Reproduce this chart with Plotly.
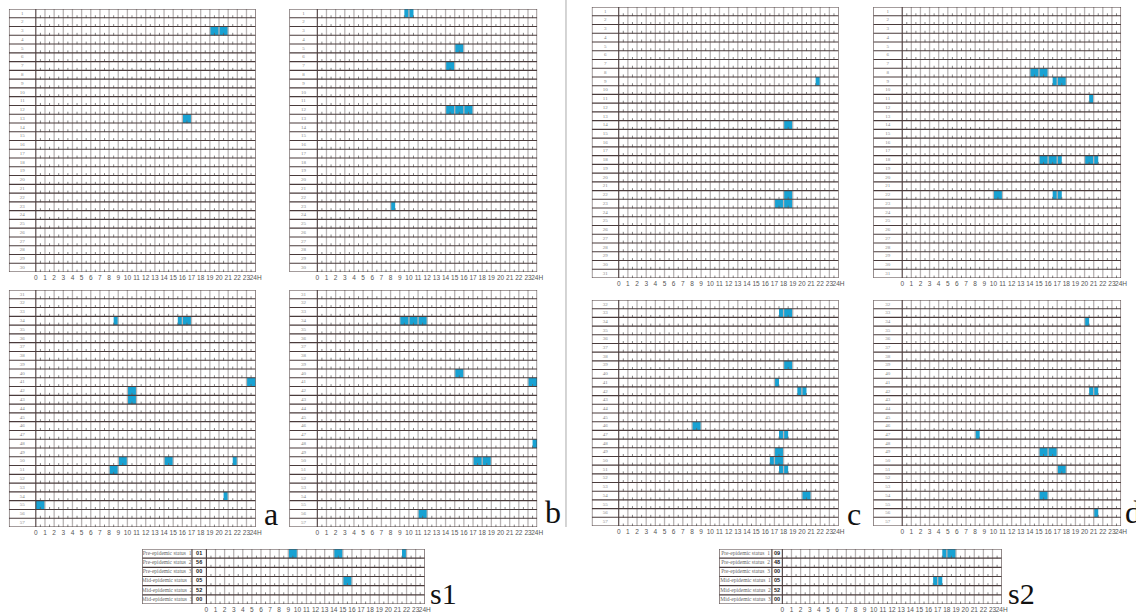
import plotly.graph_objects as go

W, H = 1136, 613

HOURS = list(range(25))
HOUR_LABELS = [str(h) for h in range(24)] + ["24H"]

# Occupied time slots per subject: (subject row, start hour, end hour)
PANEL_A = [(3, 19, 21), (13, 16, 17), (34, 8.5, 9), (34, 15.5, 17), (41, 23, 24),
           (42, 10, 11), (43, 10, 11), (50, 9, 10), (50, 14, 15), (50, 21.5, 22),
           (51, 8, 9), (54, 20.5, 21), (55, 0, 1)]
PANEL_B = [(1, 9.5, 10.5), (5, 15, 16), (7, 14, 15), (12, 14, 17), (23, 8, 8.5),
           (34, 9, 12), (40, 15, 16), (41, 23, 24), (48, 23.5, 24), (50, 17, 19),
           (56, 11, 12)]
PANEL_C = [(9, 21.5, 22), (14, 18, 19), (22, 18, 19), (23, 17, 19), (33, 17.5, 19),
           (39, 18, 19), (41, 17, 17.5), (42, 19.5, 20.5), (46, 8, 9), (47, 17.5, 18.5),
           (49, 17, 18), (50, 16.5, 18), (51, 17.5, 18.5), (54, 20, 21)]
PANEL_D = [(8, 14, 16), (9, 16.5, 18), (11, 20.5, 21), (18, 15, 17.5), (18, 20, 21.5),
           (22, 10, 11), (22, 16.5, 17.5), (34, 20, 20.5), (42, 20.5, 21.5), (47, 8, 8.5),
           (49, 15, 17), (51, 17, 18), (54, 15, 16), (56, 21, 21.5)]

STATUS_LABELS = ["Pre-epidemic status  1", "Pre-epidemic status  2", "Pre-epidemic status  3",
                 "Mid-epidemic status  1", "Mid-epidemic status  2", "Mid-epidemic status  3"]
S1_OV = ["01", "56", "00", "05", "52", "00"]
S2_OV = ["09", "48", "00", "05", "52", "00"]
S1_BLOCKS = [(1, 9, 10), (1, 14, 15), (1, 21.5, 22), (4, 15, 16)]
S2_BLOCKS = [(1, 17.5, 19), (4, 16.5, 17.5)]

BLUE = "#18a2d3"
DARK = "#4a3b3b"
GRAY = "#b8b4b4"
TICK_FONT = dict(family="Liberation Sans", size=6.5, color="#555")
ROW_FONT = dict(family="Liberation Serif", size=5, color="#888")

fig = go.Figure()
axes = {}


def add_panel(n, box, grid_x0, rows, labels, blocks, ov_x0=None, ov_vals=None,
              label_font=ROW_FONT):
    x0, x1, y0, y1 = box
    cw = (x1 - grid_x0) / 24.0
    lw = (grid_x0 - x0) / cw
    xa, ya = ("x", "y") if n == 1 else (f"x{n}", f"y{n}")
    top, bot = rows[0] - 0.5, rows[-1] + 0.5
    common = dict(xaxis=xa, yaxis=ya, hoverinfo="skip", showlegend=False)

    sel = [b for b in blocks if rows[0] <= b[0] <= rows[-1]]
    if sel:
        fig.add_trace(go.Bar(orientation="h", y=[b[0] for b in sel],
                             x=[b[2] - b[1] for b in sel], base=[b[1] for b in sel],
                             width=1.0, marker=dict(color=BLUE, line=dict(width=0)),
                             **common))

    # hour lines
    vx, vy = [], []
    for h in HOURS[1:-1]:
        vx += [h, h, None]
        vy += [top, bot, None]
    fig.add_trace(go.Scatter(x=vx, y=vy, mode="lines",
                             line=dict(color=GRAY, width=1.3), **common))

    # half-hour tick marks along each row
    tx, ty = [], []
    for r in rows:
        for h in HOURS[:-1]:
            tx.append(h + 0.5)
            ty.append(r + 0.38)
    fig.add_trace(go.Scatter(x=tx, y=ty, mode="markers",
                             marker=dict(symbol="line-ns", size=2,
                                         line=dict(color="#666", width=0.8)),
                             **common))

    # row lines, frame and column separators
    dx, dy = [], []
    for k in range(len(rows) + 1):
        yb = top + k
        dx += [-lw, 24, None]
        dy += [yb, yb, None]
    seps = [-lw, 0, 24]
    ovw = 0
    if ov_x0 is not None:
        ovw = (grid_x0 - ov_x0) / cw
        seps.append(-ovw)
    for s in seps:
        dx += [s, s, None]
        dy += [top, bot, None]
    fig.add_trace(go.Scatter(x=dx, y=dy, mode="lines",
                             line=dict(color=DARK, width=1.1), **common))

    # row labels
    lab_center = -(lw + ovw) / 2.0
    fig.add_trace(go.Scatter(x=[lab_center] * len(rows), y=rows, mode="text",
                             text=labels, textfont=label_font, **common))
    if ov_vals is not None:
        fig.add_trace(go.Scatter(x=[-ovw / 2.0] * len(rows), y=rows, mode="text",
                                 text=[f"<b>{v}</b>" for v in ov_vals],
                                 textfont=dict(family="Liberation Sans", size=5.5,
                                               color="#222"), **common))
        fig.add_trace(go.Scatter(x=[-ovw / 2.0], y=[top - 0.75], mode="text",
                                 text=["<b>OV</b>"], cliponaxis=False,
                                 textfont=dict(family="Liberation Sans", size=5.5,
                                               color="#222"), **common))

    key = "" if n == 1 else str(n)
    axes[f"xaxis{key}"] = dict(domain=[x0 / W, x1 / W], range=[-lw, 24],
                               tickvals=HOURS, ticktext=HOUR_LABELS, tickfont=TICK_FONT,
                               tickangle=0, showgrid=False, zeroline=False,
                               showline=False, ticks="", fixedrange=True, anchor=ya)
    axes[f"yaxis{key}"] = dict(domain=[1 - y1 / H, 1 - y0 / H], range=[bot, top],
                               showticklabels=False, showgrid=False, zeroline=False,
                               showline=False, ticks="", fixedrange=True, anchor=xa)


top30 = list(range(1, 31))
bot31 = list(range(31, 58))
top31 = list(range(1, 32))
bot32 = list(range(32, 58))

add_panel(1, (9, 257, 9, 272), 36, top30, [str(r) for r in top30], PANEL_A)
add_panel(2, (291, 540, 9, 272), 319, top30, [str(r) for r in top30], PANEL_B)
add_panel(3, (595, 843, 7, 278), 622, top31, [str(r) for r in top31], PANEL_C)
add_panel(4, (878, 1127, 7, 278), 907, top31, [str(r) for r in top31], PANEL_D)
add_panel(5, (9, 257, 290, 527), 36, bot31, [str(r) for r in bot31], PANEL_A)
add_panel(6, (291, 540, 290, 527), 319, bot31, [str(r) for r in bot31], PANEL_B)
add_panel(7, (595, 843, 300, 526), 622, bot32, [str(r) for r in bot32], PANEL_C)
add_panel(8, (878, 1127, 300, 526), 907, bot32, [str(r) for r in bot32], PANEL_D)
six = list(range(1, 7))
status_font = dict(family="Liberation Serif", size=5.5, color="#666")
add_panel(9, (143, 427, 549, 604), 207.5, six, STATUS_LABELS, S1_BLOCKS,
          ov_x0=193, ov_vals=S1_OV, label_font=status_font)
add_panel(10, (723, 1007, 549, 604), 786.5, six, STATUS_LABELS, S2_BLOCKS,
          ov_x0=776, ov_vals=S2_OV, label_font=status_font)

# panel letters: (text, left x, vertical centre y, size) in pixels
LETTERS = [("a", 263, 514, 32), ("b", 546, 512, 32), ("c", 849, 514, 32),
           ("d", 1129, 512, 32), ("s1", 430, 593, 30), ("s2", 1011, 593, 30)]
annotations = [dict(text=t, x=x / W, y=1 - y / H, xref="paper", yref="paper",
                    xanchor="left", yanchor="middle", showarrow=False,
                    font=dict(family="Liberation Serif", size=s, color="#111"))
               for t, x, y, s in LETTERS]

fig.update_layout(
    width=W, height=H, margin=dict(l=0, r=0, t=0, b=0),
    paper_bgcolor="white", plot_bgcolor="white", barmode="overlay",
    annotations=annotations,
    shapes=[dict(type="line", xref="paper", yref="paper", x0=569 / W, x1=569 / W,
                 y0=1 - 527 / H, y1=1, line=dict(color="#aaa", width=1))],
    **axes,
)

fig.write_html("out.html")
